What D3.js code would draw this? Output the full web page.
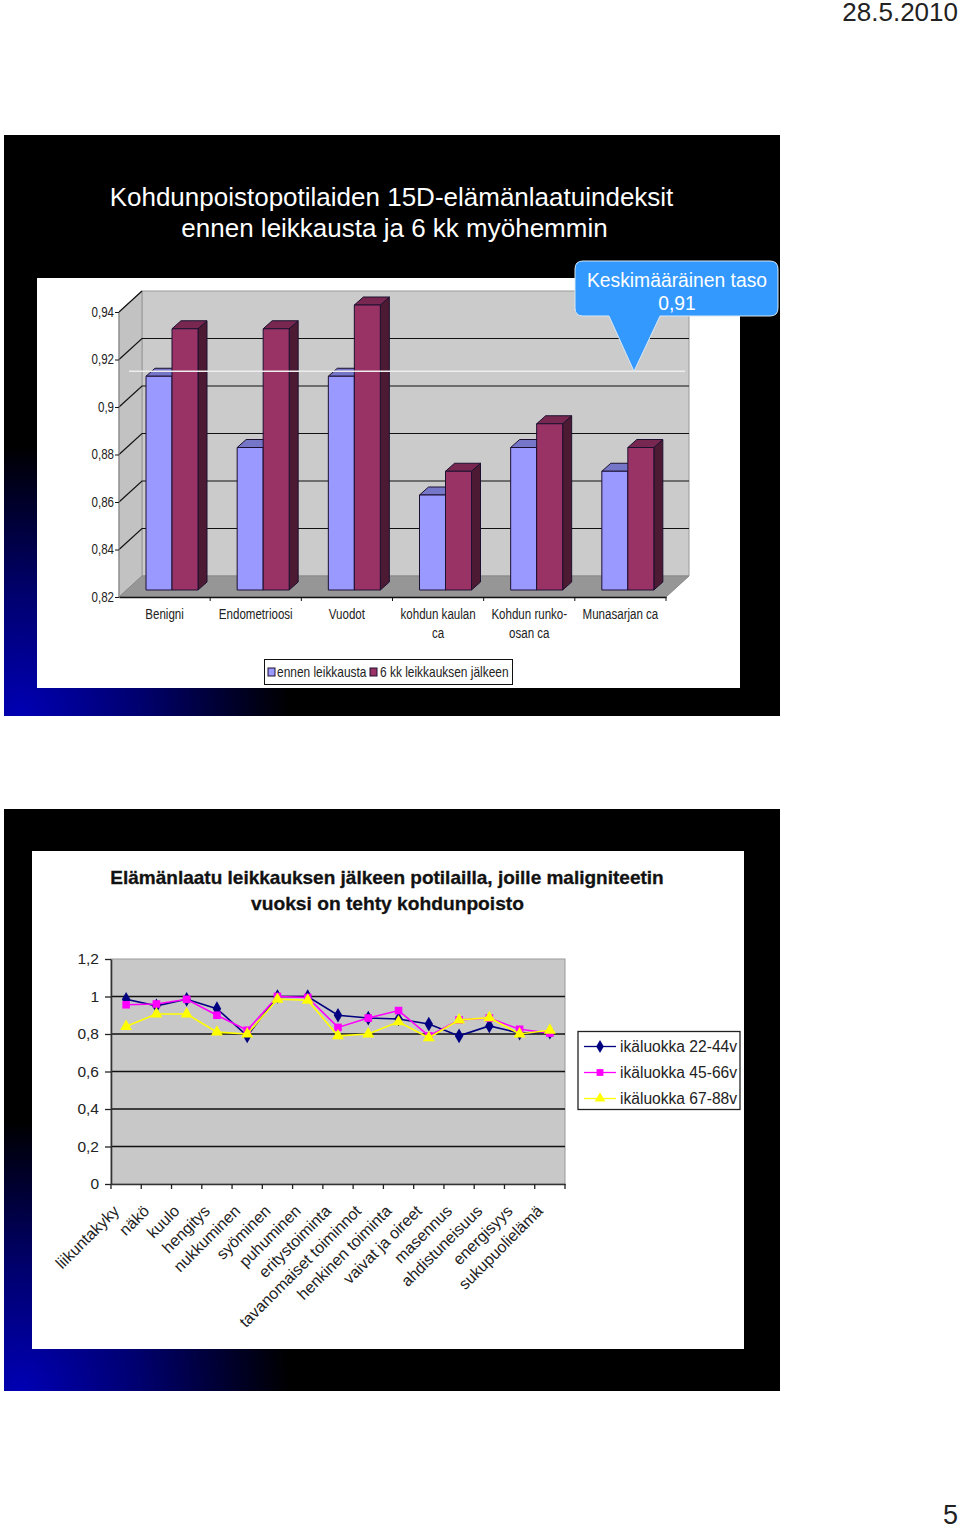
<!DOCTYPE html>
<html>
<head>
<meta charset="utf-8">
<script src="https://cdn.jsdelivr.net/npm/d3@7"></script>
<style>
body { margin: 0; background: #fff; }
text { font-family: "Liberation Sans", Arial, sans-serif; }
</style>
</head>
<body>
<svg id="page" width="960" height="1526"></svg>
<script>
// first chart
var categories = ["Benigni", "Endometrioosi", "Vuodot", "kohdun kaulan|ca", "Kohdun runko-|osan ca", "Munasarjan ca"];
var beforeSurgery = [0.91, 0.88, 0.91, 0.86, 0.88, 0.87];
var afterSurgery = [0.93, 0.93, 0.94, 0.87, 0.89, 0.88];
var barTicks = [0.82, 0.84, 0.86, 0.88, 0.9, 0.92, 0.94];
var barSeries = ["ennen leikkausta", "6 kk leikkauksen jälkeen"];
var averageLevel = 0.91;

// second chart
var items = ["liikuntakyky", "näkö", "kuulo", "hengitys", "nukkuminen", "syöminen", "puhuminen", "eritystoiminta",
    "tavanomaiset toiminnot", "henkinen toiminta", "vaivat ja oireet", "masennus", "ahdistuneisuus", "energisyys", "sukupuolielämä"];
var age22 = [0.985, 0.95, 0.985, 0.935, 0.79, 1.0, 1.0, 0.9, 0.885, 0.88, 0.853, 0.79, 0.843, 0.805, 0.81];
var age45 = [0.956, 0.96, 0.985, 0.9, 0.82, 1.0, 0.995, 0.835, 0.885, 0.925, 0.79, 0.875, 0.885, 0.825, 0.805];
var age67 = [0.84, 0.907, 0.907, 0.81, 0.8, 0.985, 0.98, 0.79, 0.8, 0.865, 0.78, 0.875, 0.887, 0.8, 0.82];
var lineTicks = [0, 0.2, 0.4, 0.6, 0.8, 1, 1.2];
var lineNames = ["ikäluokka 22-44v", "ikäluokka 45-66v", "ikäluokka 67-88v"];

var svg = d3.select("#page");
var comma = function(d) { return String(d).replace(".", ","); };
var squeeze = 0.77;   // first chart's labels are set in a condensed face

var defs = svg.append("defs");
function glow(id, cx, cy) {
    var g = defs.append("radialGradient").attr("id", id)
        .attr("gradientUnits", "userSpaceOnUse")
        .attr("cx", cx).attr("cy", cy).attr("r", 270);
    g.append("stop").attr("offset", 0).attr("stop-color", "#0000b4");
    g.append("stop").attr("offset", 0.45).attr("stop-color", "#00006e");
    g.append("stop").attr("offset", 1).attr("stop-color", "#000");
}
glow("glow1", 20, 716);
glow("glow2", 20, 1391);

// page header and number
svg.append("text").attr("x", 958).attr("y", 21).attr("text-anchor", "end")
    .attr("font-size", 26).attr("fill", "#222").text("28.5.2010");
svg.append("text").attr("x", 958).attr("y", 1524).attr("text-anchor", "end")
    .attr("font-size", 27).attr("fill", "#222").text("5");

// slide 1 background
svg.append("rect").attr("x", 4).attr("y", 135).attr("width", 776).attr("height", 581).attr("fill", "#000");
svg.append("rect").attr("x", 4).attr("y", 135).attr("width", 776).attr("height", 581).attr("fill", "url(#glow1)");
svg.append("text").attr("x", 391.5).attr("y", 206).attr("text-anchor", "middle")
    .attr("font-size", 26).attr("fill", "#fff").text("Kohdunpoistopotilaiden 15D-elämänlaatuindeksit");
svg.append("text").attr("x", 394.5).attr("y", 237).attr("text-anchor", "middle")
    .attr("font-size", 26).attr("fill", "#fff").text("ennen leikkausta ja 6 kk myöhemmin");
svg.append("rect").attr("x", 37).attr("y", 278).attr("width", 703).attr("height", 410).attr("fill", "#fff");

drawBars();
drawLines();

function drawBars() {
    var depthX = 23, depthY = -21;       // wall offset
    var barDepthX = 9, barDepthY = -8;   // bar offset
    var x = d3.scaleBand().domain(categories).range([119, 666]);
    var y = d3.scaleLinear().domain([0.82, 0.94]).range([597, 312]);
    var series = d3.scaleBand().domain(barSeries).range([27, 79]);
    var g = svg.append("g");

    var left = 119, right = 666, bottom = y(0.82), top = y(0.94);

    // walls
    g.append("polygon").attr("fill", "#cbcbcb").attr("stroke", "#999")
        .attr("points", [[left + depthX, top + depthY], [right + depthX, top + depthY], [right + depthX, bottom + depthY], [left + depthX, bottom + depthY]].join(" "));
    g.append("polygon").attr("fill", "#c2c2c2").attr("stroke", "#999")
        .attr("points", [[left, top], [left + depthX, top + depthY], [left + depthX, bottom + depthY], [left, bottom]].join(" "));
    g.append("polygon").attr("fill", "#969696").attr("stroke", "#888")
        .attr("points", [[left, bottom], [right, bottom], [right + depthX, bottom + depthY], [left + depthX, bottom + depthY]].join(" "));

    // gridlines
    var grid = barTicks.slice(1);
    g.selectAll(".grid").data(grid).enter().append("path").attr("class", "grid")
        .attr("fill", "none").attr("stroke", "#111").attr("stroke-width", 1.2)
        .attr("d", function(d) {
            if (d == 0.94) return "M" + left + "," + y(d) + "L" + (left + depthX) + "," + (y(d) + depthY);
            return "M" + left + "," + y(d) + "L" + (left + depthX) + "," + (y(d) + depthY) + "L" + (right + depthX) + "," + (y(d) + depthY);
        });

    // bars
    var barBase = y(0.82) - 7;
    function bar(values, name, front, topc, side) {
        var w = series.bandwidth();
        var b = g.append("g").selectAll("g").data(values).enter().append("g")
            .attr("stroke", "#1c1030").attr("stroke-width", 1).attr("stroke-linejoin", "round");
        var bx = function(i) { return x(categories[i]) + series(name); };
        var by = function(d) { return y(d) - 7; };
        b.append("polygon").attr("fill", side).attr("points", function(d, i) {
            return [[bx(i) + w, by(d)], [bx(i) + w + barDepthX, by(d) + barDepthY], [bx(i) + w + barDepthX, barBase + barDepthY], [bx(i) + w, barBase]].join(" ");
        });
        b.append("polygon").attr("fill", topc).attr("points", function(d, i) {
            return [[bx(i), by(d)], [bx(i) + barDepthX, by(d) + barDepthY], [bx(i) + w + barDepthX, by(d) + barDepthY], [bx(i) + w, by(d)]].join(" ");
        });
        b.append("rect").attr("fill", front)
            .attr("x", function(d, i) { return bx(i); })
            .attr("y", by)
            .attr("width", w)
            .attr("height", function(d) { return barBase - by(d); });
    }
    bar(beforeSurgery, barSeries[0], "#9999ff", "#7676c8", "#4c4c80");
    bar(afterSurgery, barSeries[1], "#993366", "#782850", "#4c1a33");

    // axes
    var yAxis = d3.axisLeft(y).tickValues(barTicks).tickFormat(comma).tickSize(4);
    var ya = g.append("g").attr("transform", "translate(119,0)").call(yAxis);
    ya.selectAll("text").attr("x", 0).attr("dy", null).attr("font-size", 15).attr("fill", "#222")
        .attr("transform", "translate(-5,4) scale(" + squeeze + ",1)");
    ya.selectAll("line").attr("stroke", "#111");
    ya.select(".domain").attr("stroke", "#888").attr("d", "M0," + top + "V" + bottom);

    var xa = g.append("g").attr("transform", "translate(0," + bottom + ")")
        .call(d3.axisBottom(x).tickValues([]).tickSizeOuter(0));
    xa.select(".domain").attr("stroke", "#111").attr("stroke-width", 1.4);
    var edges = x.domain().map(function(c) { return x(c) + x.bandwidth(); });
    xa.selectAll(".edge").data(edges).enter().append("line").attr("class", "edge")
        .attr("x1", function(d) { return d; }).attr("x2", function(d) { return d; })
        .attr("y1", 0).attr("y2", 4).attr("stroke", "#111");

    g.selectAll(".cat").data(categories).enter().append("text").attr("class", "cat")
        .attr("text-anchor", "middle").attr("font-size", 15).attr("fill", "#222")
        .attr("transform", function(d) { return "translate(" + (x(d) + x.bandwidth() / 2) + ",618.5) scale(" + squeeze + ",1)"; })
        .selectAll("tspan").data(function(d) { return d.split("|"); }).enter().append("tspan")
        .attr("x", 0).attr("dy", function(d, i) { return i ? 19.5 : 0; })
        .text(function(d) { return d; });

    // legend
    var lg = svg.append("g");
    lg.append("rect").attr("x", 264.5).attr("y", 659.5).attr("width", 248).attr("height", 25)
        .attr("fill", "#fff").attr("stroke", "#111");
    var lx = [268, 370], tx = [277, 380], lc = ["#9999ff", "#993366"];
    barSeries.forEach(function(s, i) {
        lg.append("rect").attr("x", lx[i]).attr("y", 668).attr("width", 7).attr("height", 8)
            .attr("fill", lc[i]).attr("stroke", "#1c1030");
        lg.append("text").attr("transform", "translate(" + tx[i] + ",677) scale(0.795,1)")
            .attr("font-size", 15).attr("fill", "#222").text(s);
    });

    // average line and callout
    var ay = y(averageLevel) - 12;
    svg.append("line").attr("x1", 129).attr("x2", 685).attr("y1", ay).attr("y2", ay)
        .attr("stroke", "#eee").attr("stroke-width", 1.3);
    var p = d3.path();
    p.moveTo(583, 261); p.lineTo(770, 261); p.quadraticCurveTo(778, 261, 778, 269);
    p.lineTo(778, 308); p.quadraticCurveTo(778, 316, 770, 316);
    p.lineTo(660, 316); p.lineTo(634, ay); p.lineTo(609, 316);
    p.lineTo(583, 316); p.quadraticCurveTo(575, 316, 575, 308);
    p.lineTo(575, 269); p.quadraticCurveTo(575, 261, 583, 261); p.closePath();
    svg.append("path").attr("d", p.toString()).attr("fill", "#3399ff").attr("stroke", "#d8e8f4").attr("stroke-width", 1);
    svg.append("text").attr("x", 677).attr("y", 287).attr("text-anchor", "middle")
        .attr("font-size", 19.3).attr("fill", "#fff").text("Keskimääräinen taso");
    svg.append("text").attr("x", 677).attr("y", 310).attr("text-anchor", "middle")
        .attr("font-size", 19.3).attr("fill", "#fff").text(comma(averageLevel));
}

function drawLines() {
    svg.append("rect").attr("x", 4).attr("y", 809).attr("width", 776).attr("height", 582).attr("fill", "#000");
    svg.append("rect").attr("x", 4).attr("y", 809).attr("width", 776).attr("height", 582).attr("fill", "url(#glow2)");
    svg.append("rect").attr("x", 32).attr("y", 851).attr("width", 712).attr("height", 498).attr("fill", "#fff");

    svg.append("text").attr("x", 387).attr("y", 884).attr("text-anchor", "middle")
        .attr("font-size", 19).attr("font-weight", "bold").attr("fill", "#111")
        .attr("stroke", "#111").attr("stroke-width", 0.3)
        .text("Elämänlaatu leikkauksen jälkeen potilailla, joille maligniteetin");
    svg.append("text").attr("x", 387.5).attr("y", 910).attr("text-anchor", "middle")
        .attr("font-size", 19.2).attr("font-weight", "bold").attr("fill", "#111")
        .attr("stroke", "#111").attr("stroke-width", 0.3)
        .text("vuoksi on tehty kohdunpoisto");

    var x = d3.scaleBand().domain(items).range([111, 565]);
    var y = d3.scaleLinear().domain([0, 1.2]).range([1184, 959]);
    var g = svg.append("g");

    g.append("rect").attr("x", 111).attr("y", y(1.2)).attr("width", 454).attr("height", y(0) - y(1.2))
        .attr("fill", "#c8c8c8").attr("stroke", "#999");
    g.selectAll(".grid").data(lineTicks.slice(1, -1)).enter().append("line").attr("class", "grid")
        .attr("x1", 111).attr("x2", 565)
        .attr("y1", function(d) { return y(d); }).attr("y2", function(d) { return y(d); })
        .attr("stroke", "#111").attr("stroke-width", 1.5);

    var ya = g.append("g").attr("transform", "translate(111,0)")
        .call(d3.axisLeft(y).tickValues(lineTicks).tickFormat(comma).tickSize(6).tickSizeOuter(0).tickPadding(6));
    ya.selectAll("text").attr("font-size", 15.5).attr("fill", "#222");
    ya.selectAll("line").attr("stroke", "#222").attr("stroke-width", 1.3);
    ya.select(".domain").attr("stroke", "#333").attr("stroke-width", 1.6);

    var xa = g.append("g").attr("transform", "translate(0,1184)")
        .call(d3.axisBottom(x).tickValues([]).tickSizeOuter(0));
    xa.select(".domain").attr("stroke", "#333").attr("stroke-width", 1.6);
    var edges = [111].concat(items.map(function(c) { return x(c) + x.bandwidth(); }));
    xa.selectAll(".edge").data(edges).enter().append("line").attr("class", "edge")
        .attr("x1", function(d) { return d; }).attr("x2", function(d) { return d; })
        .attr("y1", 0).attr("y2", 5).attr("stroke", "#222").attr("stroke-width", 1.3);

    g.selectAll(".item").data(items).enter().append("text").attr("class", "item")
        .attr("text-anchor", "end").attr("font-size", 16).attr("fill", "#222")
        .attr("transform", function(d) { return "translate(" + (x(d) + x.bandwidth() / 2 - 6) + ",1212) rotate(-45)"; })
        .text(function(d) { return d; });

    var symbols = [d3.symbolDiamond, d3.symbolSquare, d3.symbolTriangle];
    var sizes = [62, 58, 62];
    var colors = ["#000080", "#ff00ff", "#ffff00"];
    var lines = [age22, age45, age67];
    var line = d3.line()
        .x(function(d, i) { return x(items[i]) + x.bandwidth() / 2; })
        .y(function(d) { return y(d); });

    lines.forEach(function(values, k) {
        g.append("path").attr("d", line(values)).attr("fill", "none")
            .attr("stroke", colors[k]).attr("stroke-width", 1.6);
        g.selectAll(".m" + k).data(values).enter().append("path").attr("class", "m" + k)
            .attr("d", d3.symbol().type(symbols[k]).size(sizes[k]))
            .attr("fill", colors[k])
            .attr("transform", function(d, i) { return "translate(" + (x(items[i]) + x.bandwidth() / 2) + "," + y(d) + ")"; });
    });

    // legend
    var lg = svg.append("g");
    lg.append("rect").attr("x", 578).attr("y", 1031.5).attr("width", 162).attr("height", 78)
        .attr("fill", "#fff").attr("stroke", "#222").attr("stroke-width", 1.3);
    var ly = d3.scalePoint().domain(lineNames).range([1046.5, 1098.5]);
    lineNames.forEach(function(name, k) {
        lg.append("line").attr("x1", 584).attr("x2", 616).attr("y1", ly(name)).attr("y2", ly(name))
            .attr("stroke", colors[k]).attr("stroke-width", 1.3);
        lg.append("path").attr("d", d3.symbol().type(symbols[k]).size(sizes[k] * 0.8))
            .attr("fill", colors[k]).attr("transform", "translate(600," + ly(name) + ")");
        lg.append("text").attr("x", 620).attr("y", ly(name) + 5.5)
            .attr("font-size", 15.6).attr("fill", "#222").text(name);
    });
}
</script>
</body>
</html>
